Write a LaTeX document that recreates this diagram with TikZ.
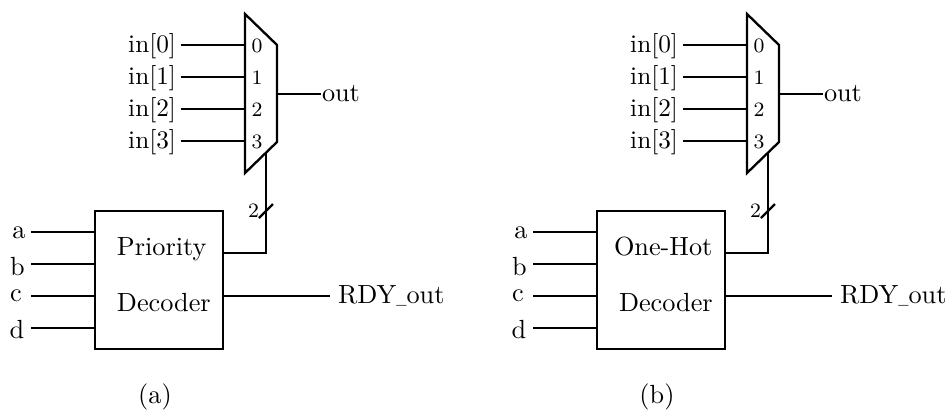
\documentclass[tikz,border=0pt]{standalone}
\newcommand{\shortus}{\raisebox{0.05ex}{\scalebox{0.52}[1]{\_}}}
\begin{document}
\begin{tikzpicture}[x=0.4114pt,y=-0.4114pt,
  wire/.style={line width=0.95pt},
  blockbox/.style={draw,line width=0.95pt,minimum width=52.66pt,minimum height=56.77pt,inner sep=0pt,outer sep=0pt},
  lab/.style={inner sep=0pt,outer sep=0pt,font=\fontsize{10.8}{13}\selectfont},
  inlab/.style={inner sep=0pt,outer sep=0pt,font=\fontsize{10.4}{13}\selectfont},
  tinylab/.style={inner sep=0pt,outer sep=0pt,font=\fontsize{8.4}{10}\selectfont}]
\useasboundingbox (0,0) rectangle (946,409);
\foreach \o/\p/\t/\tx/\cap in {0/a/Priority/117/(a),502/b/One-Hot/112/(b)}{
\begin{scope}[xshift=\o*0.4114pt]
  % multiplexer
  \coordinate (m1\p) at (245,14);
  \coordinate (m2\p) at (277,45);
  \coordinate (m3\p) at (277,142);
  \coordinate (m4\p) at (245,173);
  \draw[wire,line join=miter] (m1\p) -- (m2\p) -- (m3\p) -- (m4\p) -- cycle;
  \foreach \n/\y/\by in {0/45/52,1/77/84,2/109/116,3/141/148}{
    \node[inlab,anchor=base east] (in\n\p) at (176,\by) {in[\n]};
    \node[tinylab,anchor=base] (sel\n\p) at (257,\y+7.5) {\n};
    \coordinate (mi\n\p) at (245,\y);
    \coordinate (is\n\p) at (181,\y);
    \draw[wire] (is\n\p) -- (mi\n\p);
  }
  \node[lab,anchor=base west] (out\p) at (322,101) {out};
  \coordinate (mo\p) at (277,94);
  \coordinate (oe\p) at (321,94);
  \draw[wire] (mo\p) -- (oe\p);
  % decoder
  \node[blockbox] (dec\p) at (159,280) {};
  \node[lab,anchor=base west] (dt1\p) at (\tx,255) {\t};
  \node[lab,anchor=base west] (dt2\p) at (117,311) {Decoder};
  \foreach \l/\y/\by/\lx in {a/232/238/19,b/264/275/17.5,c/296/301/16,d/328/338/17}{
    \node[lab,anchor=base] (i\l\p) at (\lx,\by) {\l};
    \coordinate (is\l\p) at (31,\y);
    \coordinate (ie\l\p) at (95,\y);
    \draw[wire] (is\l\p) -- (ie\l\p);
  }
  % bus to select
  \coordinate (bt\p) at (266,153);
  \coordinate (bc\p) at (266,253);
  \coordinate (bs\p) at (223,253);
  \draw[wire] (bs\p) -- (bc\p) -- (bt\p);
  \coordinate (s1\p) at (259,218);
  \coordinate (s2\p) at (273,204);
  \draw[wire] (s1\p) -- (s2\p);
  \node[tinylab,anchor=base] (two\p) at (253.5,217) {2};
  % ready output
  \coordinate (rs\p) at (223,296);
  \coordinate (re\p) at (330,296);
  \draw[wire] (rs\p) -- (re\p);
  \node[lab,anchor=base west] (rdy\p) at (338,303.5) {RDY\shortus out};
  \node[lab,anchor=base] (cap\p) at (155,403) {\cap};
\end{scope}
}
\end{tikzpicture}
\end{document}
